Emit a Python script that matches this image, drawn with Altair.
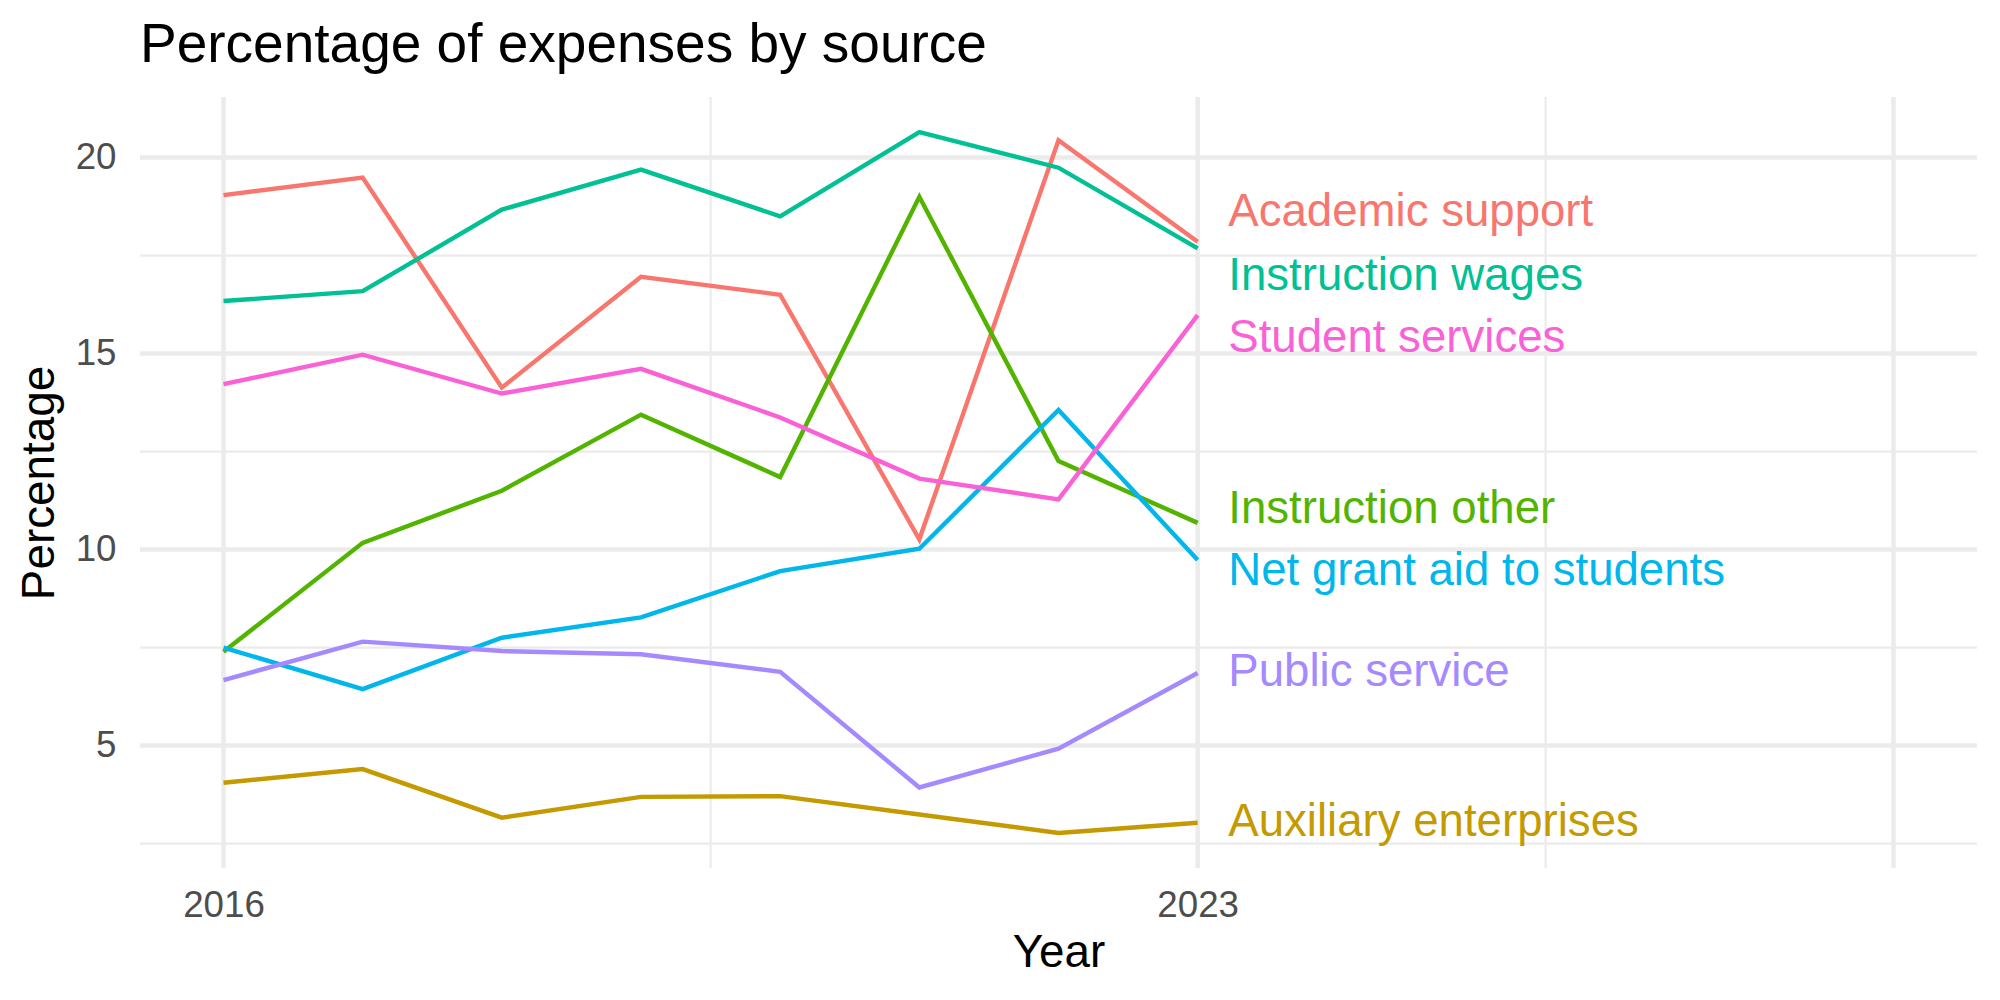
import altair as alt
import pandas as pd

FONT = "Liberation Sans"

years = [2016, 2017, 2018, 2019, 2020, 2021, 2022, 2023]

series_names = [
    "Academic support",
    "Auxiliary enterprises",
    "Instruction other",
    "Instruction wages",
    "Net grant aid to students",
    "Public service",
    "Student services",
]
series_colors = ["#F8766D", "#C49A00", "#53B400", "#00C094", "#00B6EB", "#A58AFF", "#FB61D7"]

academic_support = [19.04, 19.49, 14.13, 16.96, 16.50, 10.26, 20.44, 17.85]
auxiliary_enterprises = [4.05, 4.40, 3.16, 3.69, 3.71, 3.24, 2.77, 3.03]
instruction_other = [7.39, 10.17, 11.50, 13.44, 11.85, 19.00, 12.26, 10.68]
instruction_wages = [16.34, 16.59, 18.67, 19.69, 18.50, 20.65, 19.74, 17.68]
net_grant_aid = [7.50, 6.44, 7.75, 8.27, 9.45, 10.02, 13.56, 9.73]
public_service = [6.67, 7.65, 7.41, 7.33, 6.88, 3.93, 4.92, 6.85]
student_services = [14.22, 14.97, 13.98, 14.61, 13.37, 11.81, 11.28, 15.98]

# end-of-line label positions (spread apart so they do not overlap)
label_year = 2023.22
label_y = [18.61, 3.05, 11.04, 16.98, 9.46, 6.87, 15.39]

# axis breaks
x_major = [2016, 2023, 2028]
x_minor = [2019.5, 2025.5]
x_labels = [2016, 2023]
y_major = [5, 10, 15, 20]
y_minor = [2.5, 7.5, 12.5, 17.5]

values = [academic_support, auxiliary_enterprises, instruction_other, instruction_wages,
          net_grant_aid, public_service, student_services]
rows = []
for name, vals in zip(series_names, values):
    for yr, v in zip(years, vals):
        rows.append({"Year": yr, "Percentage": v, "source": name})
df = pd.DataFrame(rows)

labels_df = pd.DataFrame({"source": series_names, "y": label_y, "x": [label_year] * len(series_names)})

x_scale = alt.Scale(domain=[2015.4, 2028.6], nice=False, zero=False)
y_scale = alt.Scale(domain=[1.876, 21.544], nice=False, zero=False)
color_scale = alt.Scale(domain=series_names, range=series_colors)

x_axis = alt.Axis(values=x_labels, format="d", grid=False, domain=False, ticks=False,
                  labelFont=FONT, labelFontSize=36.7, labelColor="#4D4D4D", labelPadding=19,
                  titleFont=FONT, titleFontSize=45.8, titleFontWeight="normal",
                  titleColor="black", titlePadding=7)
y_axis = alt.Axis(values=y_major, grid=False, domain=False, ticks=False,
                  labelFont=FONT, labelFontSize=36.7, labelColor="#4D4D4D", labelPadding=24,
                  titleFont=FONT, titleFontSize=45.8, titleFontWeight="normal",
                  titleColor="black", titlePadding=12)


def xenc(field):
    return alt.X(field, scale=x_scale, axis=x_axis, title="Year")


def yenc(field):
    return alt.Y(field, scale=y_scale, axis=y_axis, title="Percentage")


GRID = "#EBEBEB"

vminor = alt.Chart(pd.DataFrame({"x": x_minor})).mark_rule(color=GRID, strokeWidth=2.2).encode(x=xenc("x:Q"))
vmajor = alt.Chart(pd.DataFrame({"x": x_major})).mark_rule(color=GRID, strokeWidth=4.4).encode(x=xenc("x:Q"))
hminor = alt.Chart(pd.DataFrame({"y": y_minor})).mark_rule(color=GRID, strokeWidth=2.2).encode(y=yenc("y:Q"))
hmajor = alt.Chart(pd.DataFrame({"y": y_major})).mark_rule(color=GRID, strokeWidth=4.4).encode(y=yenc("y:Q"))

lines = alt.Chart(df).mark_line(strokeWidth=4.4).encode(
    x=xenc("Year:Q"),
    y=yenc("Percentage:Q"),
    color=alt.Color("source:N", scale=color_scale, legend=None),
    detail="source:N",
)

texts = alt.Chart(labels_df).mark_text(align="left", baseline="middle", font=FONT, fontSize=45.6).encode(
    x=xenc("x:Q"),
    y=yenc("y:Q"),
    text="source:N",
    color=alt.Color("source:N", scale=color_scale, legend=None),
)

chart = alt.layer(vminor, vmajor, hminor, hmajor, lines, texts).properties(
    width=1837,
    height=771,
    background="white",
    autosize=alt.AutoSizeParams(type="none"),
    padding={"left": 140, "top": 97, "right": 23, "bottom": 132},
    title=alt.TitleParams("Percentage of expenses by source", anchor="start", frame="group",
                          font=FONT, fontSize=55, fontWeight="normal", color="black",
                          baseline="alphabetic", offset=33, dy=55),
).configure_view(stroke=None)

chart.save("out.html", embed_options={"renderer": "svg", "actions": False})
